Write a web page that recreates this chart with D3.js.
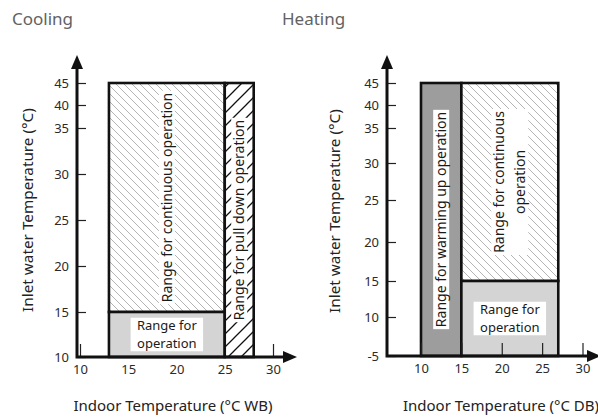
<!DOCTYPE html>
<html>
<head>
<meta charset="utf-8">
<script src="https://cdn.jsdelivr.net/npm/d3@7/dist/d3.min.js"></script>
<style>
  body { margin: 0; background: #fff; }
  svg text { font-family: "Noto Sans", sans-serif; }
</style>
</head>
<body>
<div id="chart"></div>
<script>
// ---- data ----
var coolTicksX = [10, 15, 20, 25, 30]
var coolTicksY = [10, 15, 20, 25, 30, 35, 40, 45]
var heatTicksX = [10, 15, 20, 25, 30]
var heatTicksY = [-5, 10, 15, 20, 25, 30, 35, 40, 45]

// regions in data units: [xFrom, xTo, yFrom, yTo]
var coolRegions = [
  {x: [13, 25], y: [15, 45], kind: "light", label: ["Range for continuous operation"], rotate: true},
  {x: [13, 25], y: [10, 15], kind: "gray", label: ["Range for", "operation"], rotate: false},
  {x: [25, 28], y: [10, 45], kind: "dark", label: ["Range for pull down operation"], rotate: true}
]
var heatRegions = [
  {x: [10, 15], y: [-5, 45], kind: "darkgray", label: ["Range for warming up operation"], rotate: true},
  {x: [15, 27], y: [15, 45], kind: "light", label: ["Range for continuous", "operation"], rotate: true},
  {x: [15, 27], y: [-5, 15], kind: "gray", label: ["Range for", "operation"], rotate: false}
]

// ---- layout ----
var W = 598, H = 420

var svg = d3.select("#chart").append("svg")
  .attr("width", W)
  .attr("height", H)

var defs = svg.append("defs")
defs.append("pattern")
  .attr("id", "hatchLight")
  .attr("patternUnits", "userSpaceOnUse")
  .attr("width", 8).attr("height", 8)
  .append("path")
  .attr("d", "M0,0L8,8M-1,7L1,9M7,-1L9,1")
  .attr("stroke", "#b4b4b4")
  .attr("stroke-width", 1)
defs.append("pattern")
  .attr("id", "hatchDark")
  .attr("patternUnits", "userSpaceOnUse")
  .attr("width", 13).attr("height", 13)
  .append("path")
  .attr("d", "M0,13L13,0M-1,1L1,-1M12,14L14,12")
  .attr("stroke", "#111")
  .attr("stroke-width", 1.3)

var panels = [
  {
    title: "Cooling", titleX: 12,
    ticksX: coolTicksX, ticksY: coolTicksY, regions: coolRegions,
    axisX: 77, axisY: 357, arrowX: 297, arrowTop: 55,
    xRange: [80, 273],
    yRange: [357, 312, 266, 220, 174, 128, 105, 83],
    ticksOnTop: false,
    yTitleX: 28, yTitleY: 210,
    xTitle: "Indoor Temperature (\u00B0C WB)", xTitleX: 173
  },
  {
    title: "Heating", titleX: 282,
    ticksX: heatTicksX, ticksY: heatTicksY, regions: heatRegions,
    axisX: 387, axisY: 356, arrowX: 601, arrowTop: 55,
    xRange: [421, 582.5],
    yRange: [356, 317, 281, 242, 200, 163, 128, 105, 83],
    ticksOnTop: true,
    yTitleX: 335, yTitleY: 211,
    xTitle: "Indoor Temperature (\u00B0C DB)", xTitleX: 501
  }
]

var fills = {light: "url(#hatchLight)", dark: "url(#hatchDark)", gray: "#d4d4d4", darkgray: "#9d9d9d"}

panels.forEach(function(p) {
  var g = svg.append("g")

  var x = d3.scaleLinear().domain([10, 30]).range(p.xRange)
  var y = d3.scaleLinear().domain(p.ticksY).range(p.yRange)

  // title
  g.append("text")
    .attr("x", p.titleX).attr("y", 25)
    .attr("font-size", 17)
    .attr("fill", "#626262")
    .text(p.title)

  // y axis ticks and labels
  var yAxis = d3.axisLeft(y)
    .tickValues(p.ticksY)
    .tickFormat(function(d) { return String(d) })
    .tickSizeInner(-9)
    .tickSizeOuter(0)
    .tickPadding(8)
  var gy = g.append("g")
    .attr("transform", "translate(" + p.axisX + ",0)")
    .call(yAxis)
  gy.select(".domain").remove()
  gy.selectAll("text").attr("font-size", 13).attr("fill", "#2a2a2a").style("font-family", "Noto Sans")
  gy.selectAll("line").attr("stroke", "#222").attr("stroke-width", 1.2)

  var xAxis = d3.axisBottom(x)
    .tickValues(p.ticksX)
    .tickSizeInner(-13)
    .tickSizeOuter(0)
    .tickPadding(8)

  function drawXAxis() {
    var gx = g.append("g")
      .attr("transform", "translate(0," + p.axisY + ")")
      .call(xAxis)
    gx.select(".domain").remove()
    gx.selectAll("text").attr("font-size", 13).attr("fill", "#2a2a2a").style("font-family", "Noto Sans")
    gx.selectAll("line").attr("stroke", "#222").attr("stroke-width", 1.2)
  }
  if (!p.ticksOnTop) drawXAxis()

  // regions
  p.regions.forEach(function(r) {
    var rx = x(r.x[0]), rw = x(r.x[1]) - x(r.x[0])
    var ry = y(r.y[1]), rh = y(r.y[0]) - y(r.y[1])
    g.append("rect")
      .attr("x", rx).attr("y", ry).attr("width", rw).attr("height", rh)
      .attr("fill", "#fff")
    g.append("rect")
      .attr("x", rx).attr("y", ry).attr("width", rw).attr("height", rh)
      .attr("fill", fills[r.kind])
      .attr("stroke", "#111")
      .attr("stroke-width", 2.6)
  })

  if (p.ticksOnTop) drawXAxis()

  // region labels
  p.regions.forEach(function(r) {
    var cx = (x(r.x[0]) + x(r.x[1])) / 2
    var cy = (y(r.y[0]) + y(r.y[1])) / 2
    var lh = r.rotate ? 21 : 17.5
    var fs = r.rotate ? 14 : 13
    var lg = g.append("g")
      .attr("transform", "translate(" + cx + "," + cy + ")" + (r.rotate ? " rotate(-90)" : ""))
    var box = lg.append("rect").attr("fill", "#fff")
    var t = lg.append("text")
      .attr("text-anchor", "middle")
      .attr("font-size", fs)
      .attr("fill", "#1a1a1a")
    r.label.forEach(function(line, i) {
      t.append("tspan")
        .attr("x", 0)
        .attr("y", (i - (r.label.length - 1) / 2) * lh)
        .attr("dy", "0.36em")
        .text(line)
    })
    var bb = t.node().getBBox()
    var padX = r.rotate ? 2 : 6
    var thick = (r.label.length - 1) * lh + 16
    box.attr("x", -bb.width / 2 - padX)
      .attr("y", -thick / 2)
      .attr("width", bb.width + 2 * padX)
      .attr("height", thick)
  })

  // axis lines with arrows
  g.append("path")
    .attr("d", "M" + p.axisX + "," + (p.axisY + 1.5) + "V" + (p.arrowTop + 10) +
      "M" + (p.axisX - 1.5) + "," + p.axisY + "H" + (p.arrowX - 10))
    .attr("stroke", "#111")
    .attr("stroke-width", 3)
    .attr("fill", "none")
  g.append("path")
    .attr("d", "M" + p.axisX + "," + p.arrowTop + "L" + (p.axisX + 6) + "," + (p.arrowTop + 14) +
      "L" + (p.axisX - 6) + "," + (p.arrowTop + 14) + "Z")
    .attr("fill", "#111")
  g.append("path")
    .attr("d", "M" + p.arrowX + "," + p.axisY + "L" + (p.arrowX - 14) + "," + (p.axisY - 6) +
      "L" + (p.arrowX - 14) + "," + (p.axisY + 6) + "Z")
    .attr("fill", "#111")

  // axis titles
  g.append("text")
    .attr("transform", "translate(" + p.yTitleX + "," + p.yTitleY + ") rotate(-90)")
    .attr("text-anchor", "middle")
    .attr("dy", "0.35em")
    .attr("font-size", 15.3)
    .attr("fill", "#222")
    .text("Inlet water Temperature (\u00B0C)")
  g.append("text")
    .attr("x", p.xTitleX).attr("y", 411)
    .attr("text-anchor", "middle")
    .attr("font-size", 15)
    .attr("fill", "#222")
    .text(p.xTitle)
})
</script>
</body>
</html>
